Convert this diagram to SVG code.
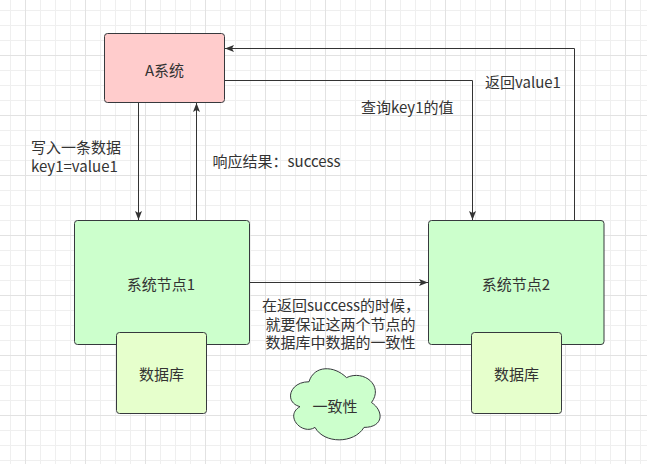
<svg xmlns="http://www.w3.org/2000/svg" width="647" height="464" viewBox="0 0 647 464">
<style>
text{font-family:"Noto Sans CJK SC","Microsoft YaHei","Liberation Sans",sans-serif;font-size:15px;fill:#333333;dominant-baseline:central}
.c{text-anchor:middle}
.box{stroke:#36393d;stroke-width:1}
.edge{fill:none;stroke:#333333;stroke-width:1}
</style>
<defs>
<pattern id="grid" patternUnits="userSpaceOnUse" x="10" y="10" width="60" height="60">
<path d="M0.5,0V60M30.5,0V60M45.5,0V60M0,0.5H60M0,15.5H60M0,30.5H60" stroke="#efefef" stroke-width="1" fill="none"/>
<path d="M15.5,0V60M0,45.5H60" stroke="#e2e2e2" stroke-width="1" fill="none"/>
</pattern>
<marker id="arr" markerWidth="10" markerHeight="8" refX="9" refY="4" orient="auto" markerUnits="userSpaceOnUse">
<path d="M0,0.5 L9,4 L0,7.5 L2,4 Z" fill="#333333"/>
</marker>
</defs>
<rect width="647" height="464" fill="#ffffff"/>
<rect width="647" height="464" fill="url(#grid)"/>

<g id="connectors">
<path class="edge" d="M138.5,103 L138.5,220" marker-end="url(#arr)"/>
<path class="edge" d="M196.5,220 L196.5,103" marker-end="url(#arr)"/>
<path class="edge" d="M224.5,80.5 L472.5,80.5 L472.5,220" marker-end="url(#arr)"/>
<path class="edge" d="M574.5,220 L574.5,48.5 L225,48.5" marker-end="url(#arr)"/>
<path class="edge" d="M249.5,282.5 L428,282.5" marker-end="url(#arr)"/>
</g>

<g id="labels">
<text x="31" y="146">写入一条数据<tspan x="31" dy="19">key1=value1</tspan></text>
<text x="212.5" y="160">响应结果：success</text>
<text x="361" y="106">查询key1的值</text>
<text x="485" y="81">返回value1</text>
<text x="262" y="304">在返回success的时候，<tspan x="265.5" dy="18.5">就要保证这两个节点的</tspan><tspan x="265.5" dy="18">数据库中数据的一致性</tspan></text>
</g>

<g id="nodeA">
<rect class="box" x="104.5" y="33.5" width="120" height="69" rx="3" fill="#ffcccc"/>
<text class="c" x="164.5" y="69">A系统</text>
</g>

<g id="node1">
<rect class="box" x="74.5" y="220.5" width="175" height="124" rx="3" fill="#ccffcc"/>
<text class="c" x="161" y="283">系统节点1</text>
</g>

<g id="db1">
<rect class="box" x="116.5" y="332.5" width="90" height="81" rx="3" fill="#e6ffcc"/>
<text class="c" x="161.5" y="373">数据库</text>
</g>

<g id="node2">
<rect class="box" x="428.5" y="220.5" width="175.5" height="124" rx="3" fill="#ccffcc"/>
<text class="c" x="516" y="283">系统节点2</text>
</g>

<g id="db2">
<rect class="box" x="471.5" y="332.5" width="90" height="81" rx="3" fill="#e6ffcc"/>
<text class="c" x="516.5" y="373">数据库</text>
</g>

<g id="cloud">
<path class="box" fill="#ccffcc" transform="translate(284,361)" d="M25,20.75 C5,20.75 0,41.5 16,45.65 C0,54.78 18,74.7 31,66.4 C40,83 70,83 80,66.4 C100,66.4 100,49.8 87.5,41.5 C100,24.9 80,8.3 62.5,16.6 C50,4.15 30,4.15 25,20.75 Z"/>
<text class="c" x="335" y="405.5">一致性</text>
</g>
</svg>
